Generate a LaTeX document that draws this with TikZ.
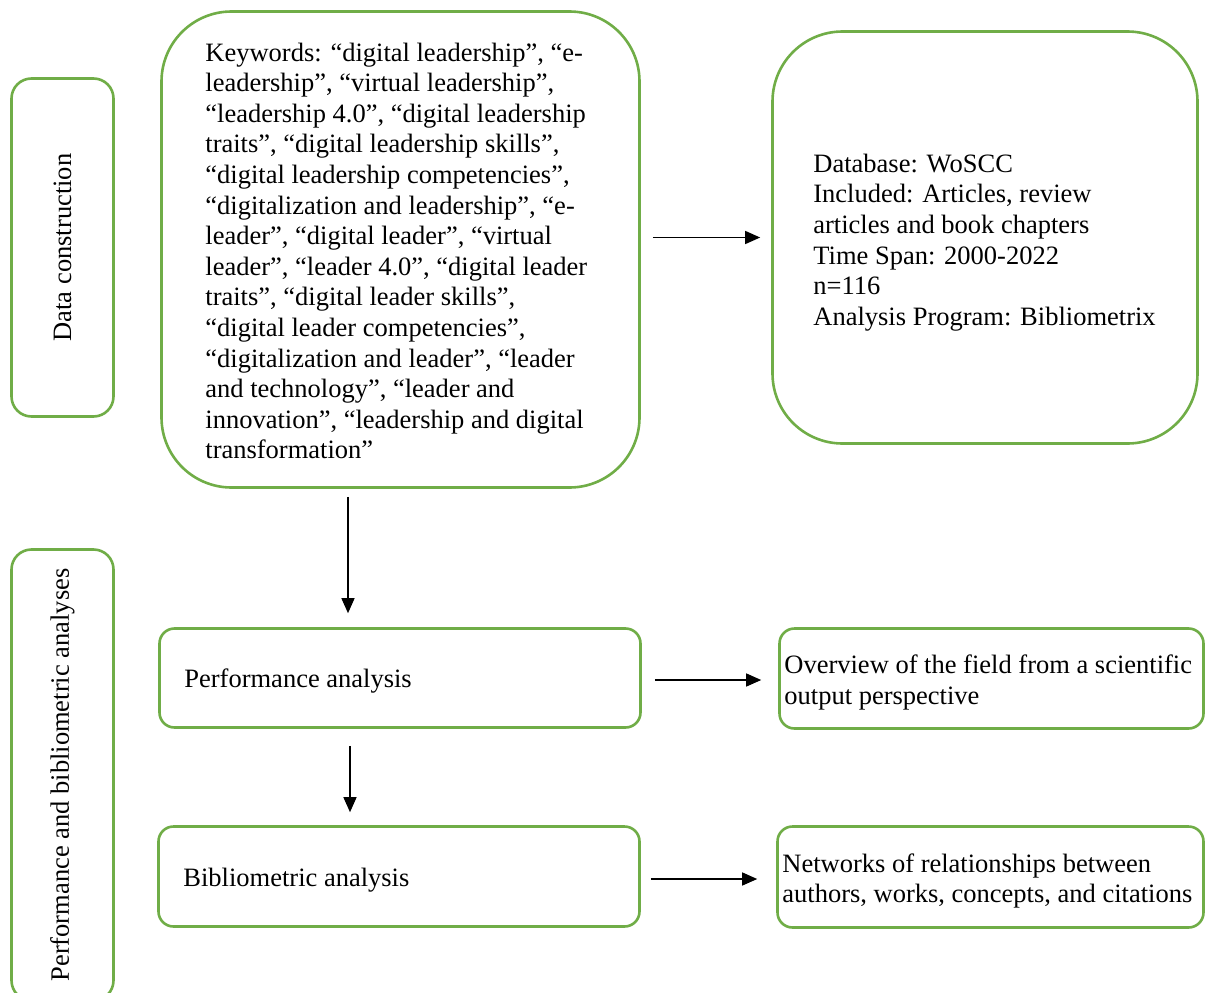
\documentclass[tikz,border=0pt]{standalone}
\usepackage{fontspec}
\setmainfont{Liberation Serif}
\usetikzlibrary{arrows.meta}
\definecolor{boxgreen}{RGB}{112,173,71}

\begin{document}
\begin{tikzpicture}[x=1pt, y=-1pt,
	box/.style={draw=boxgreen, line width=2.6pt, inner sep=0pt},
	txt/.style={font=\fontsize{26.5}{30.6}\selectfont, align=left, inner sep=0pt, anchor=west},
	arr/.style={-{Triangle[length=15pt,width=13pt]}, line width=1.3pt}]
	\useasboundingbox (0,0) rectangle (1211,993);
	\clip (0,0) rectangle (1211,993);
	% Boxes
	\node[box, rounded corners=20pt, minimum width=102pt, minimum height=338pt] (dc) at (62.5,247.5) {};
	\node[box, rounded corners=20pt, minimum width=102pt, minimum height=451pt] (pba) at (62.5,775) {};
	\node[box, rounded corners=70pt, minimum width=478pt, minimum height=476pt] (kw) at (400.5,249.5) {};
	\node[box, rounded corners=70pt, minimum width=425pt, minimum height=412pt] (db) at (985,237.5) {};
	\node[box, rounded corners=15pt, minimum width=481pt, minimum height=99pt] (perf) at (400,678) {};
	\node[box, rounded corners=15pt, minimum width=424pt, minimum height=100pt] (ov) at (991.5,678.5) {};
	\node[box, rounded corners=15pt, minimum width=481pt, minimum height=100pt] (bib) at (399,876.5) {};
	\node[box, rounded corners=15pt, minimum width=426pt, minimum height=101pt] (net) at (990.5,877) {};
	% Labels
	\node[txt, anchor=center, rotate=90] (dctext) at (dc.center) {Data construction};
	\node[txt, anchor=center, rotate=90] (pbatext) at (pba.center) {Performance and bibliometric analyses};
	\node[txt] (kwtext) at ([xshift=45pt, yshift=-1.5pt]kw.west) {Keywords: “digital leadership”, “e-\\
		leadership”, “virtual leadership”,\\
		“leadership 4.0”, “digital leadership\\
		traits”, “digital leadership skills”,\\
		“digital leadership competencies”,\\
		“digitalization and leadership”, “e-\\
		leader”, “digital leader”, “virtual\\
		leader”, “leader 4.0”, “digital leader\\
		traits”, “digital leader skills”,\\
		“digital leader competencies”,\\
		“digitalization and leader”, “leader\\
		and technology”, “leader and\\
		innovation”, “leadership and digital\\
		transformation”};
	\node[txt] (dbtext) at ([xshift=42pt, yshift=-5pt]db.west) {Database: WoSCC\\
		Included: Articles, review\\
		articles and book chapters\\
		Time Span: 2000-2022\\
		n=116\\
		Analysis Program: Bibliometrix};
	\node[txt] (perftext) at ([xshift=26pt, yshift=-3.5pt]perf.west) {Performance analysis};
	\node[txt] (ovtext) at ([xshift=6pt, yshift=-4pt]ov.west) {Overview of the field from a scientific\\
		output perspective};
	\node[txt] (bibtext) at ([xshift=26pt, yshift=-3.5pt]bib.west) {Bibliometric analysis};
	\node[txt] (nettext) at ([xshift=6pt, yshift=-4pt]net.west) {Networks of relationships between\\
		authors, works, concepts, and citations};
	% Arrows
	\draw[arr, shorten <=12pt, shorten >=11pt] (kw.east |- db.west) -- (db.west);
	\draw[arr, shorten <=8pt, shorten >=14pt] ([xshift=-52.5pt]kw.south) -- ([xshift=-52pt]perf.north);
	\draw[arr, shorten <=13pt, shorten >=17pt] ([yshift=-2pt]perf.east) -- ([yshift=-2pt]perf.east -| ov.west);
	\draw[arr, shorten <=17pt, shorten >=13pt] ([xshift=-50pt]perf.south) -- ([xshift=-50pt]perf.south |- bib.north);
	\draw[arr, shorten <=10pt, shorten >=19pt] ([yshift=-2.5pt]bib.east) -- ([yshift=-2.5pt]bib.east -| net.west);
\end{tikzpicture}
\end{document}
